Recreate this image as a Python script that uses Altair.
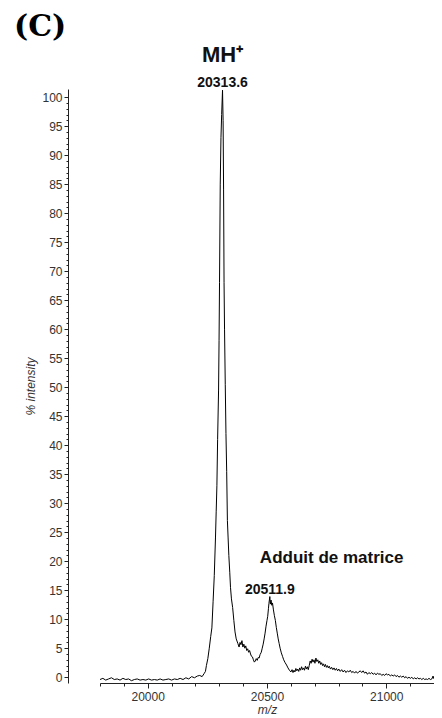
import altair as alt
import pandas as pd

# ---- spectrum (m/z vs % intensity) ----
mz = [19800, 19812, 19824, 19836, 19848, 19860, 19872, 19884, 19896, 19908,
      19920, 19932, 19944, 19956, 19968, 19980, 19992, 20004, 20016, 20028,
      20040, 20052, 20064, 20076, 20088, 20100, 20112, 20124, 20136, 20148,
      20160, 20172, 20184, 20196, 20208, 20218, 20228, 20236, 20242,
      20246, 20252, 20258, 20264, 20269, 20274, 20279, 20284, 20287, 20290,
      20293, 20297, 20299, 20301, 20304, 20307, 20310, 20313.6, 20316, 20318,
      20320, 20322, 20325, 20328, 20331, 20334, 20337, 20340, 20344, 20347,
      20351, 20356, 20361, 20366, 20371, 20378, 20383, 20387, 20391, 20395,
      20399, 20403, 20407, 20411, 20415, 20419, 20423, 20427, 20431, 20435,
      20439, 20443, 20447, 20451, 20455, 20459, 20463, 20467, 20471, 20476,
      20480, 20484, 20488, 20492, 20496, 20500, 20503, 20506, 20508, 20511.9,
      20514, 20517, 20520, 20523, 20527, 20531, 20535, 20539, 20543, 20547,
      20551, 20555, 20560, 20565, 20570, 20576, 20582, 20588, 20594, 20600,
      20605, 20609, 20613, 20617, 20621, 20625, 20629, 20633, 20637, 20641,
      20645, 20649, 20653, 20657, 20661, 20665, 20669, 20673, 20677, 20681,
      20685, 20689, 20693, 20697, 20701, 20705, 20709, 20713, 20717, 20721,
      20725, 20729, 20733, 20737, 20741, 20745, 20749, 20753, 20757, 20761,
      20766, 20771, 20776, 20781, 20786, 20791, 20796, 20801, 20807, 20813,
      20819, 20825, 20831, 20837, 20843, 20849, 20855, 20861, 20867, 20873,
      20879, 20885, 20891, 20897, 20903, 20909, 20915, 20921, 20927, 20933,
      20939, 20945, 20951, 20957, 20963, 20969, 20975, 20981, 20987, 20993,
      20999, 21005, 21011, 21017, 21023, 21029, 21035, 21041, 21047, 21053,
      21059, 21065, 21071, 21077, 21083, 21089, 21095, 21101, 21107, 21113,
      21119, 21125, 21131, 21137, 21143, 21149, 21155, 21161, 21167, 21173,
      21179, 21185, 21191, 21196, 21200]

intensity = [-0.4, -0.2, -0.5, -0.3, -0.1, -0.4, -0.3, -0.5, -0.2, -0.4,
             -0.3, -0.6, -0.4, -0.3, -0.5, -0.4, -0.5, -0.3, -0.5, -0.4,
             -0.5, -0.3, -0.5, -0.4, -0.3, -0.5, -0.3, -0.4, -0.2, -0.4,
             -0.1, -0.3, 0.1, -0.1, 0.2, 0.3, 0.1, 0.6, 1.0,
             2.0, 3.2, 5.0, 7.0, 8.5, 13.0, 17.5, 24.0, 28.5, 33.0,
             41.0, 49.5, 58.0, 68.0, 85.0, 93.0, 97.0, 101.2, 96.0, 84.0,
             68.0, 60.0, 50.5, 42.0, 35.5, 27.0, 24.0, 21.0, 18.0, 15.5,
             13.5, 12.0, 9.8, 7.8, 6.6, 5.8, 5.2, 6.0, 5.6, 6.3,
             5.2, 5.7, 5.0, 5.4, 4.6, 4.9, 4.3, 4.6, 4.0, 3.6,
             3.5, 3.0, 2.6, 2.8, 3.2, 2.9, 3.4, 3.3, 3.9, 4.3,
             5.0, 5.7, 6.6, 7.6, 8.8, 9.8, 10.5, 11.8, 12.7, 13.9,
             12.6, 13.3, 12.4, 12.8, 11.6, 10.6, 9.8, 8.6, 7.6, 6.6,
             5.8, 5.0, 4.2, 3.6, 3.0, 2.5, 2.1, 1.6, 1.2, 0.9,
             1.3, 0.8, 1.2, 0.9, 1.5, 1.1, 1.4, 1.0, 1.6, 1.2,
             1.8, 1.3, 1.6, 1.2, 1.9, 1.4, 1.8, 1.3, 2.0, 2.8,
             2.4, 3.1, 2.6, 3.0, 2.4, 3.3, 2.7, 3.0, 2.4, 2.8,
             2.2, 2.5, 2.0, 2.3, 1.8, 2.2, 1.7, 2.0, 1.6, 1.9,
             1.4, 1.7, 1.3, 1.6, 1.2, 1.5, 1.1, 1.4, 1.0, 1.3,
             0.9, 1.2, 0.8, 1.1, 0.9, 1.2, 0.8, 1.0, 0.7, 1.0,
             0.7, 0.9, 1.1, 0.8, 1.1, 0.7, 0.9, 0.5, 0.8, 0.6,
             0.8, 0.5, 0.7, 0.4, 0.7, 0.5, 0.6, 0.3, 0.5, 0.3,
             0.6, 0.4, 0.5, 0.2, 0.4, 0.2, 0.4, 0.1, 0.3, 0.0,
             0.2, 0.0, 0.2, -0.1, 0.1, -0.2, 0.0, -0.2, 0.0, -0.3,
             -0.1, -0.3, -0.1, -0.3, -0.2, -0.4, -0.2, -0.4, -0.3, -0.4,
             -0.2, -0.4, -0.3, 0.2, -0.3]

# ---- annotations ----
peak_labels = ["20313.6", "20511.9"]
peak_mz = [20313.6, 20511.9]
peak_label_level = [101.7, 14.3]

ion_labels = ["MH\u207a"]
ion_mz = [20313.6]
ion_level = [106.0]

note_labels = ["Adduit de matrice"]
note_mz = [20771]
note_level = [19.7]

# ---- axes ticks ----
x_ticks = list(range(19800, 21201, 100))
y_ticks = list(range(0, 101, 1))

spec = pd.DataFrame({"mz": mz, "intensity": intensity})
peaks = pd.DataFrame({"mz": peak_mz, "intensity": peak_label_level, "label": peak_labels})
ions = pd.DataFrame({"mz": ion_mz, "intensity": ion_level, "label": ion_labels})
notes = pd.DataFrame({"mz": note_mz, "intensity": note_level, "label": note_labels})

x_axis = alt.Axis(
    title="m/z", values=x_ticks, format="d",
    labelExpr="datum.value % 500 == 0 ? datum.label : ''",
    labelOverlap=False, labelFlush=False,
    tickSize={"condition": {"test": "datum.value % 500 == 0", "value": 5}, "value": 3},
    labelPadding=3, titlePadding=2,
    labelFontSize=12, titleFontSize=12,
)
y_axis = alt.Axis(
    title="% intensity", values=y_ticks, format="d",
    labelExpr="datum.value % 5 == 0 ? datum.label : ''",
    labelOverlap=False, labelFlush=False,
    tickSize={"condition": {"test": "datum.value % 5 == 0", "value": 4}, "value": 2},
    labelPadding=2, titlePadding=4, offset=32,
    labelFontSize=12, titleFontSize=12,
)
x_scale = alt.Scale(domain=[19800, 21200], nice=False, zero=False)
y_scale = alt.Scale(domain=[-1, 101.4], nice=False, zero=False)

X = alt.X("mz:Q", scale=x_scale, axis=x_axis)
Y = alt.Y("intensity:Q", scale=y_scale, axis=y_axis)

line = alt.Chart(spec).mark_line(color="black", strokeWidth=1).encode(x=X, y=Y)

peak_txt = alt.Chart(peaks).mark_text(
    font="Liberation Sans", fontWeight="bold", fontSize=14, color="#111",
    align="center", baseline="alphabetic"
).encode(x=X, y=Y, text="label:N")

ion_txt = alt.Chart(ions).mark_text(
    font="Liberation Sans", fontWeight="bold", fontSize=22, color="#111",
    align="center", baseline="alphabetic"
).encode(x=X, y=Y, text="label:N")

note_txt = alt.Chart(notes).mark_text(
    font="Liberation Sans", fontWeight="bold", fontSize=17, color="#111",
    align="center", baseline="alphabetic"
).encode(x=X, y=Y, text="label:N")

chart = alt.layer(line, peak_txt, ion_txt, note_txt).properties(
    width=334, height=594,
    autosize=alt.AutoSizeParams(type="none"),
    padding={"left": 92, "top": 81, "right": 0, "bottom": 35},
    title=alt.TitleParams(
        "(C)", anchor="start", frame="group", dx=-86, dy=30, offset=2,
        font="DejaVu Serif", fontSize=30, fontWeight="bold", color="black",
        baseline="bottom",
    ),
).configure_view(stroke=None).configure_axis(
    grid=False, domainColor="#222", tickColor="#222", labelColor="#333",
    titleColor="#333", labelFont="Liberation Sans", titleFont="Liberation Sans",
    titleFontStyle="italic", titleFontWeight="normal", domainWidth=1, tickWidth=1,
)

chart.save("out.html", embed_options={"renderer": "svg", "actions": False})
